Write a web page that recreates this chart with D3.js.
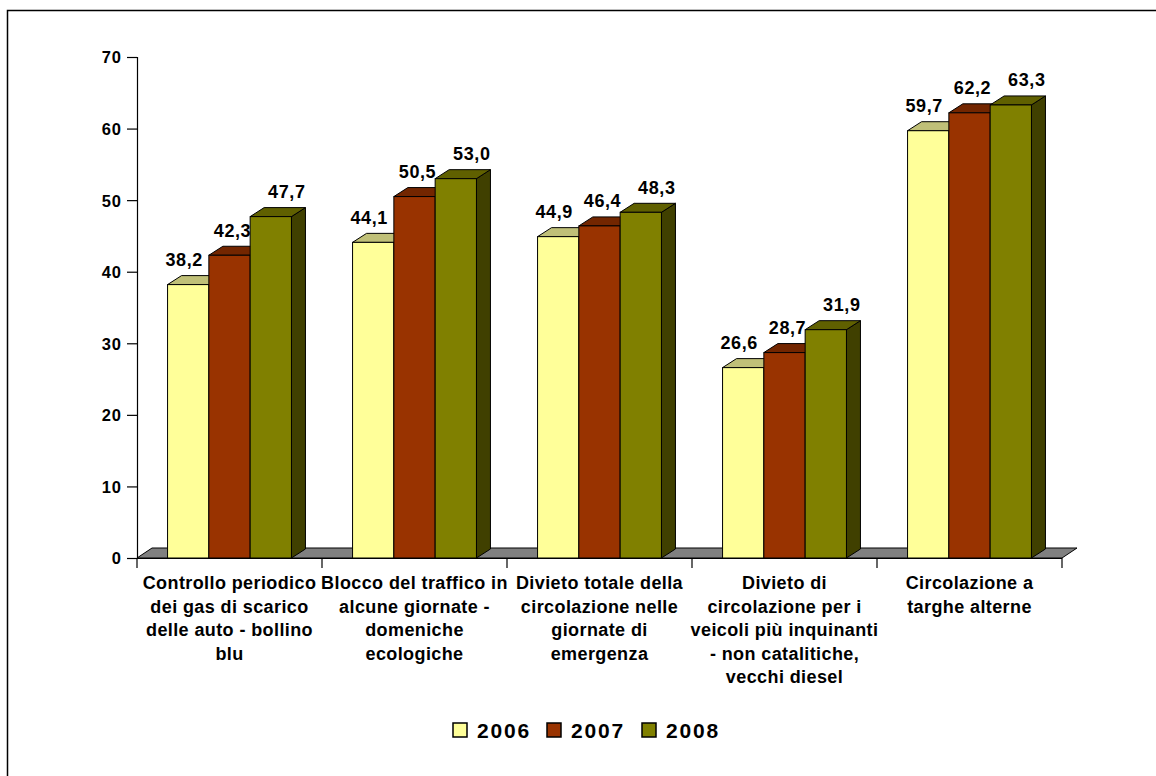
<!DOCTYPE html>
<html>
<head>
<meta charset="utf-8">
<script src="https://cdn.jsdelivr.net/npm/d3@7/dist/d3.min.js"></script>
<style>
  html, body { margin: 0; padding: 0; background: #fff; }
  svg { display: block; }
  text { font-family: "Liberation Sans", Arial, sans-serif; font-weight: bold; fill: #000; }
</style>
</head>
<body>
<svg id="chart" width="1156" height="776"></svg>
<script>
// Categories (line breaks mark the wrapped axis labels)
const categories = [
  "Controllo periodico\ndei gas di scarico\ndelle auto - bollino\nblu",
  "Blocco del traffico in\nalcune giornate -\ndomeniche\necologiche",
  "Divieto totale della\ncircolazione nelle\ngiornate di\nemergenza",
  "Divieto di\ncircolazione per i\nveicoli più inquinanti\n- non catalitiche,\nvecchi diesel",
  "Circolazione a\ntarghe alterne"
];
const years = ["2006", "2007", "2008"];
const values2006 = [38.2, 44.1, 44.9, 26.6, 59.7];
const values2007 = [42.3, 50.5, 46.4, 28.7, 62.2];
const values2008 = [47.7, 53.0, 48.3, 31.9, 63.3];
const yTicks = [0, 10, 20, 30, 40, 50, 60, 70];

const seriesValues = [values2006, values2007, values2008];

// Face colours per series: front, top, side
const palette = [
  { front: "#FFFF99", top: "#C0C078", side: "#999966" },
  { front: "#993300", top: "#732600", side: "#4D1A00" },
  { front: "#808000", top: "#606000", side: "#404000" }
];

const svg = d3.select("#chart");

// Chart frame (only top and left edges fall inside the page)
svg.append("path")
  .attr("d", "M7.5,1200 L7.5,10.5 L1400,10.5")
  .attr("fill", "none").attr("stroke", "#000").attr("stroke-width", 1.5);

const plotLeft = 137, plotRight = 1062, plotTop = 57, plotBottom = 558;
const depthX = 14, depthY = -9;

const x = d3.scaleBand().domain(d3.range(categories.length)).range([plotLeft, plotRight]);
const xs = d3.scaleBand().domain(d3.range(years.length))
  .range([0, x.bandwidth()]).paddingInner(0).paddingOuter(0.74);
const y = d3.scaleLinear().domain([0, 70]).range([plotBottom, plotTop]);

// Floor
svg.append("path")
  .attr("d", `M${plotLeft},${plotBottom} L${plotRight},${plotBottom} L${plotRight + 15},${plotBottom - 10} L${plotLeft + 15},${plotBottom - 10} Z`)
  .attr("fill", "#808080").attr("stroke", "#000").attr("stroke-width", 1);

// Y axis
const yAxis = d3.axisLeft(y).tickValues(yTicks).tickSize(10).tickPadding(5);
const gy = svg.append("g").attr("transform", `translate(${plotLeft},0)`).call(yAxis);
gy.select(".domain").attr("stroke", "#000").attr("stroke-width", 1.2);
gy.selectAll(".tick line").attr("stroke", "#000").attr("stroke-width", 1.2);
gy.selectAll(".tick text")
  .style("font-size", "16.5px").style("font-weight", "bold").style("letter-spacing", "1px")
  .style("font-family", "'Liberation Sans', Arial, sans-serif")
  .attr("fill", "#000").attr("dy", "0.36em");

// X axis baseline with category ticks on the boundaries
const gx = svg.append("g");
gx.append("line").attr("x1", plotLeft).attr("x2", plotRight).attr("y1", plotBottom + 0.5).attr("y2", plotBottom + 0.5)
  .attr("stroke", "#000").attr("stroke-width", 1.2);
const boundaries = d3.range(categories.length + 1).map(i => i < categories.length ? x(i) : x(i - 1) + x.bandwidth());
gx.selectAll("line.tk").data(boundaries).join("line").attr("class", "tk")
  .attr("x1", d => d).attr("x2", d => d).attr("y1", plotBottom).attr("y2", plotBottom + 10)
  .attr("stroke", "#000").attr("stroke-width", 1.2);

// Category labels
categories.forEach((c, i) => {
  const lines = c.split("\n");
  const t = svg.append("text")
    .attr("text-anchor", "middle")
    .style("font-size", "18px").style("letter-spacing", "0.4px");
  lines.forEach((ln, k) => {
    t.append("tspan").attr("x", x(i) + x.bandwidth() / 2).attr("y", 589 + k * 23.6).text(ln);
  });
});

// Value label horizontal nudge per series
const labelShift = [-4, 3, 16];
const fmt = v => d3.format(".1f")(v).replace(".", ",");

// 3D bars, painted left to right so nearer faces overlap correctly
const gb = svg.append("g");
categories.forEach((c, i) => {
  years.forEach((yr, j) => {
    const v = seriesValues[j][i];
    const x0 = x(i) + xs(j), x1 = x0 + xs.bandwidth();
    const y0 = y(v), yb = y(0);
    const col = palette[j];
    // side face
    gb.append("path")
      .attr("d", `M${x1},${y0} L${x1 + depthX},${y0 + depthY} L${x1 + depthX},${yb + depthY} L${x1},${yb} Z`)
      .attr("fill", col.side).attr("stroke", "#000").attr("stroke-width", 1).attr("stroke-linejoin", "round");
    // top face
    gb.append("path")
      .attr("d", `M${x0},${y0} L${x0 + depthX},${y0 + depthY} L${x1 + depthX},${y0 + depthY} L${x1},${y0} Z`)
      .attr("fill", col.top).attr("stroke", "#000").attr("stroke-width", 1).attr("stroke-linejoin", "round");
    // front face
    gb.append("rect")
      .attr("x", x0).attr("y", y0).attr("width", x1 - x0).attr("height", yb - y0)
      .attr("fill", col.front).attr("stroke", "#000").attr("stroke-width", 1);
    // value label
    gb.append("text")
      .attr("x", (x0 + x1) / 2 + labelShift[j])
      .attr("y", y0 - 25).attr("dy", "0.36em")
      .attr("text-anchor", "middle")
      .style("font-size", "18px").style("letter-spacing", "0.6px")
      .text(fmt(v));
  });
});

// Legend
const legendX = [453, 547, 642];
const lg = svg.append("g");
years.forEach((yr, j) => {
  lg.append("rect").attr("x", legendX[j]).attr("y", 723).attr("width", 14).attr("height", 14)
    .attr("fill", palette[j].front).attr("stroke", "#000").attr("stroke-width", 1.5);
  lg.append("text").attr("x", legendX[j] + 24).attr("y", 738)
    .style("font-size", "21px").style("letter-spacing", "1.8px").text(yr);
});
</script>
</body>
</html>
